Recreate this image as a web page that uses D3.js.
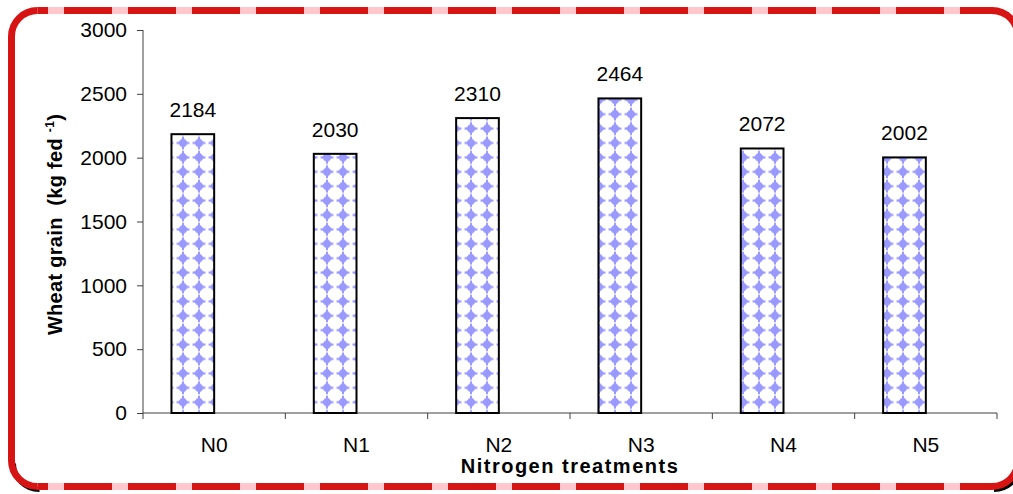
<!DOCTYPE html>
<html>
<head>
<meta charset="utf-8">
<script src="https://cdn.jsdelivr.net/npm/d3@7/dist/d3.min.js"></script>
<style>
  html, body { margin: 0; padding: 0; background: #ffffff; }
  svg { display: block; font-family: "Liberation Sans", Arial, sans-serif; }
</style>
</head>
<body>
<svg id="chart" width="1013" height="494"></svg>
<script>
// Wheat grain yield per nitrogen treatment
const categories = ["N0", "N1", "N2", "N3", "N4", "N5"];
const grainYield = [2184, 2030, 2310, 2464, 2072, 2002];
const yTicks = [0, 500, 1000, 1500, 2000, 2500, 3000];

const plot = { left: 143, right: 997, top: 30, bottom: 413 };

const svg = d3.select("#chart");
const defs = svg.append("defs");

// Diamond fill pattern for the bars
const pat = defs.append("pattern")
  .attr("id", "diamonds")
  .attr("patternUnits", "userSpaceOnUse")
  .attr("x", -1).attr("y", 6.2)
  .attr("width", 16).attr("height", 14.4);
pat.append("rect").attr("width", 16).attr("height", 14.4).attr("fill", "#ffffff");
const pc = pat.append("g").attr("fill", "#9999ff").attr("transform", "translate(8,7.2)");
pc.append("path").attr("d", "M0,-5.5 L5.5,0 L0,5.5 L-5.5,0 Z");
pc.append("rect").attr("x", -1).attr("y", -6.5).attr("width", 2).attr("height", 13);
pc.append("rect").attr("x", -6.5).attr("y", -1).attr("width", 13).attr("height", 2);
pc.append("rect").attr("x", -3).attr("y", -3).attr("width", 6).attr("height", 6);

// Scales
const x = d3.scaleBand().domain(categories).range([plot.left, plot.right]).padding(0);
const y = d3.scaleLinear().domain([0, 3000]).range([plot.bottom, plot.top]);
const barW = x.bandwidth() * 0.3;

// Y axis
const yAxis = d3.axisLeft(y).tickValues(yTicks).tickSize(6).tickPadding(10).tickFormat(d3.format("d"));
const gy = svg.append("g").attr("transform", `translate(${plot.left},0)`).call(yAxis);
gy.select(".domain").attr("stroke", "#404040").attr("d", `M0,${plot.top}V${plot.bottom}`);
gy.selectAll(".tick line").attr("stroke", "#404040");
gy.selectAll(".tick text").attr("font-size", 21).attr("fill", "#000")
  .attr("font-family", "Liberation Sans, Arial, sans-serif");

// X axis: ticks at category boundaries
const gx = svg.append("g").attr("transform", `translate(0,${plot.bottom})`);
gx.append("line").attr("x1", plot.left).attr("x2", plot.right)
  .attr("stroke", "#404040");
const bounds = categories.map(c => x(c)).concat([plot.right]);
gx.selectAll("line.tk").data(bounds).join("line").attr("class", "tk")
  .attr("x1", d => d).attr("x2", d => d).attr("y1", 0).attr("y2", 6)
  .attr("stroke", "#404040");
gx.selectAll("text.cat").data(categories).join("text").attr("class", "cat")
  .attr("x", d => x(d) + x.bandwidth() / 2).attr("y", 39)
  .attr("text-anchor", "middle").attr("font-size", 21).attr("fill", "#000")
  .text(d => d);

// Bars
svg.append("g").selectAll("rect").data(grainYield).join("rect")
  .attr("x", (d, i) => x(categories[i]) + x.bandwidth() / 2 - barW)
  .attr("y", d => y(d))
  .attr("width", barW)
  .attr("height", d => y(0) - y(d))
  .attr("fill", "url(#diamonds)")
  .attr("stroke", "#000").attr("stroke-width", 2);

// Value labels
svg.append("g").selectAll("text").data(grainYield).join("text")
  .attr("x", (d, i) => x(categories[i]) + x.bandwidth() / 2 - barW / 2)
  .attr("y", d => y(d) - 17)
  .attr("text-anchor", "middle").attr("font-size", 21).attr("fill", "#000")
  .text(d => d);

// Axis titles
svg.append("text")
  .attr("x", (plot.left + plot.right) / 2).attr("y", 473)
  .attr("text-anchor", "middle").attr("font-size", 20).attr("font-weight", "bold")
  .attr("letter-spacing", 1.5)
  .text("Nitrogen treatments");

const yt = svg.append("text")
  .attr("transform", `translate(62,${(plot.top + plot.bottom) / 2 + 3}) rotate(-90)`)
  .attr("text-anchor", "middle").attr("font-size", 20).attr("font-weight", "bold")
  .attr("letter-spacing", 0.3);
yt.append("tspan").text("Wheat grain \u00a0(kg fed ");
yt.append("tspan").attr("font-size", 12).attr("dy", -8).text("-1");
yt.append("tspan").attr("dy", 8).text(")");

// Rounded frame: dashed top/bottom edges, solid sides, shadowed lower corners
const fL = 11.5, fT = 10.5, fR = 1018, fB = 486.5, r = 26;
const red = "#d71414", pink = "#ffc6cb";
const frame = svg.append("g").attr("fill", "none");

// shadow under the lower corners
frame.append("path")
  .attr("d", `M${fL + 2},${fB - r + 3} A${r},${r} 0 0 0 ${fL + r + 2},${fB + 3}`)
  .attr("stroke", "#000").attr("stroke-width", 5);
frame.append("path")
  .attr("d", `M${fR - r + 2},${fB + 3} A${r},${r} 0 0 0 ${fR + 2},${fB - r + 3}`)
  .attr("stroke", "#000").attr("stroke-width", 5);

[fT, fB].forEach(yy => {
  frame.append("line").attr("x1", fL + r).attr("x2", fR - r).attr("y1", yy).attr("y2", yy)
    .attr("stroke", pink).attr("stroke-width", 7);
  frame.append("line").attr("x1", fL + r).attr("x2", fR - r).attr("y1", yy).attr("y2", yy)
    .attr("stroke", red).attr("stroke-width", 7)
    .attr("stroke-dasharray", "48 16")
    .attr("stroke-dashoffset", (fL + r) % 64);
});

const sides = `M${fL + r},${fT} A${r},${r} 0 0 0 ${fL},${fT + r} V${fB - r} A${r},${r} 0 0 0 ${fL + r},${fB}` +
  ` M${fR - r},${fB} A${r},${r} 0 0 0 ${fR},${fB - r} V${fT + r} A${r},${r} 0 0 0 ${fR - r},${fT}`;
frame.append("path").attr("d", sides).attr("stroke", red).attr("stroke-width", 7);
</script>
</body>
</html>
